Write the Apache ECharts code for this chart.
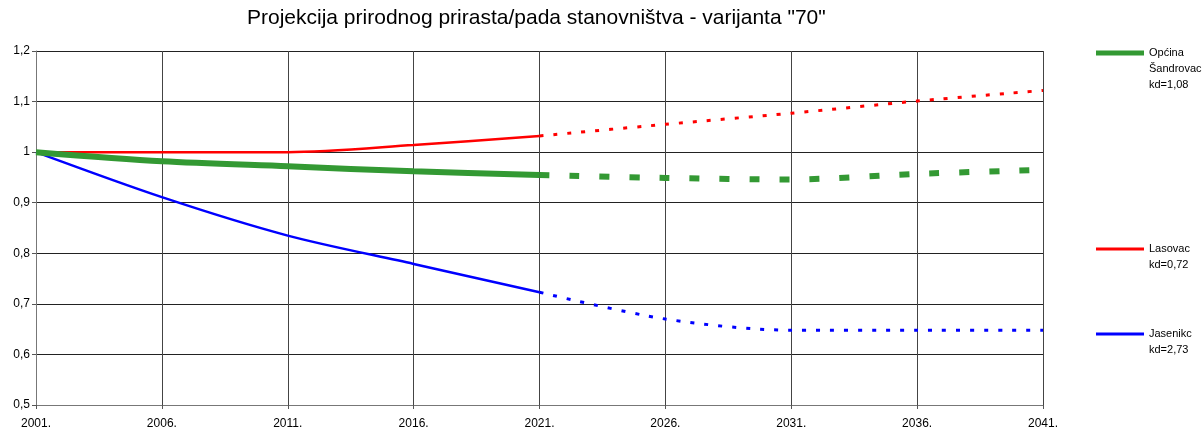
<!DOCTYPE html>
<html>
<head>
<meta charset="utf-8">
<script src="https://cdn.jsdelivr.net/npm/echarts@6/dist/echarts.min.js"></script>
<style>html,body{margin:0;padding:0;background:#fff}#c{width:1202px;height:430px}</style>
</head>
<body>
<div id="c"></div>
<script>
const years = ['2001.','2006.','2011.','2016.','2021.','2026.','2031.','2036.','2041.'];
const sandrovacSolid  = [1.000, 0.982, 0.972, 0.962, 0.955, null, null, null, null];
const sandrovacDashed = [null, null, null, null, 0.955, 0.949, 0.946, 0.957, 0.965];
const lasovacSolid    = [1.000, 1.000, 1.000, 1.014, 1.032, null, null, null, null];
const lasovacDotted   = [null, null, null, null, 1.032, 1.055, 1.077, 1.101, 1.122];
const jasenikcSolid   = [1.000, 0.911, 0.835, 0.779, 0.723, null, null, null, null];
const jasenikcDotted  = [null, null, null, null, 0.723, 0.670, 0.648, 0.648, 0.648];
const names = ['Općina Šandrovac kd=1,08', 'Lasovac kd=0,72', 'Jasenikc kd=2,73'];
const legendLabels = ['\n\nOpćina\nŠandrovac\nkd=1,08', '\nLasovac\nkd=0,72', '\nJasenikc\nkd=2,73'];
const colors = ['#339933', '#ff0000', '#0000ff'];

const font = 'Liberation Sans, Arial, sans-serif';
const chart = echarts.init(document.getElementById('c'), null, {renderer: 'canvas'});

function legendFor(i, top, h) {
  return {
    data: [names[i]], orient: 'vertical', left: 1096, top: top, padding: 0,
    icon: 'rect', itemWidth: 48, itemHeight: h, itemGap: 0,
    formatter: () => legendLabels[i],
    textStyle: {fontFamily: font, fontSize: 11, color: '#000', lineHeight: 16},
    selectedMode: false
  };
}

chart.setOption({
  animation: false,
  backgroundColor: '#fff',
  title: {
    text: 'Projekcija prirodnog prirasta/pada stanovništva - varijanta "70"',
    left: 247, top: 8, padding: 0,
    textStyle: {fontFamily: font, fontSize: 21, fontWeight: 'normal', color: '#000'}
  },
  legend: [
    legendFor(0, 13, 5),
    legendFor(1, 225, 3),
    legendFor(2, 310, 3)
  ],
  grid: {left: 36, right: 159, top: 51, bottom: 22, containLabel: false},
  xAxis: {
    type: 'category', data: years, boundaryGap: false,
    axisLine: {lineStyle: {color: '#777', width: 1}},
    axisTick: {show: true, length: 4, lineStyle: {color: '#555'}},
    axisLabel: {fontFamily: font, fontSize: 12, color: '#000', margin: 13},
    splitLine: {show: true, lineStyle: {color: '#444', width: 1}}
  },
  yAxis: {
    type: 'value', min: 0.5, max: 1.2, interval: 0.1,
    axisLine: {show: true, lineStyle: {color: '#777'}},
    axisTick: {show: true, length: 4, lineStyle: {color: '#555'}},
    axisLabel: {fontFamily: font, fontSize: 12, color: '#000', margin: 6,
      formatter: v => (Math.round(v * 10) / 10).toString().replace('.', ',')},
    splitLine: {show: true, lineStyle: {color: '#222', width: 1}}
  },
  series: [
    {name: names[1], type: 'line', data: lasovacSolid, smooth: 0.3, showSymbol: false, symbol: 'none',
      lineStyle: {color: colors[1], width: 2.5}, itemStyle: {color: colors[1]}, z: 3},
    {name: 'Lasovac projekcija', type: 'line', data: lasovacDotted, smooth: 0.3, showSymbol: false, symbol: 'none',
      lineStyle: {color: colors[1], width: 3, type: [4, 10]}, itemStyle: {color: colors[1]}, z: 3},
    {name: names[2], type: 'line', data: jasenikcSolid, smooth: 0.3, showSymbol: false, symbol: 'none',
      lineStyle: {color: colors[2], width: 2.5}, itemStyle: {color: colors[2]}, z: 3},
    {name: 'Jasenikc projekcija', type: 'line', data: jasenikcDotted, smooth: 0.3, showSymbol: false, symbol: 'none',
      lineStyle: {color: colors[2], width: 3, type: [4, 10]}, itemStyle: {color: colors[2]}, z: 3},
    {name: names[0], type: 'line', data: sandrovacSolid, smooth: 0.3, showSymbol: false, symbol: 'none',
      lineStyle: {color: colors[0], width: 6}, itemStyle: {color: colors[0]}, z: 4},
    {name: 'Šandrovac projekcija', type: 'line', data: sandrovacDashed, smooth: 0.3, showSymbol: false, symbol: 'none',
      lineStyle: {color: colors[0], width: 6, type: [10, 20]}, itemStyle: {color: colors[0]}, z: 4}
  ]
});
</script>
</body>
</html>
